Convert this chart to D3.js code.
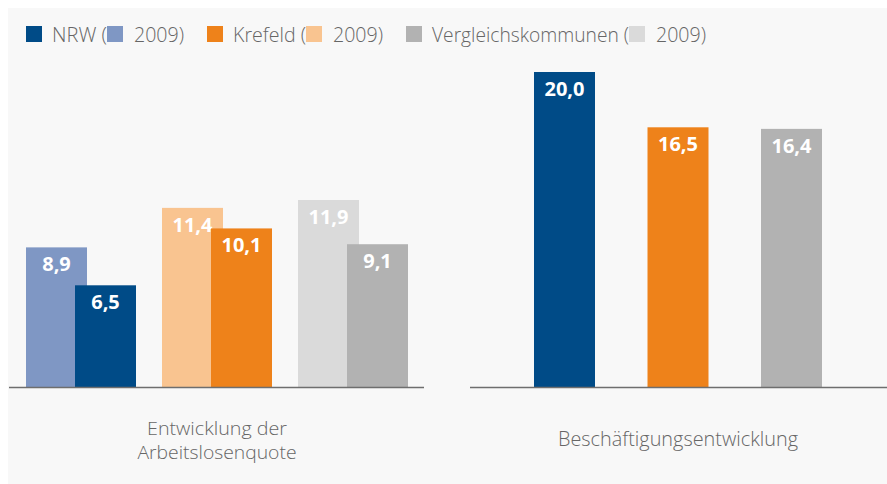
<!DOCTYPE html>
<html>
<head>
<meta charset="utf-8">
<script src="https://cdn.jsdelivr.net/npm/d3@7"></script>
<style>
  html, body { margin: 0; padding: 0; background: #ffffff; }
  svg { display: block; }
  text { font-family: "Open Sans", "Noto Sans", sans-serif; }
</style>
</head>
<body>
<svg id="chart" width="887" height="484"></svg>
<script>
// ---- Data ----
const categories = ["NRW", "Krefeld", "Vergleichskommunen"];
const years = ["2009", "aktuell"];
const arbeitslos2009 = [8.9, 11.4, 11.9];
const arbeitslosAktuell = [6.5, 10.1, 9.1];
const beschaeftigung = [20.0, 16.5, 16.4];
const panelLabels = [["Entwicklung der", "Arbeitslosenquote"], ["Beschäftigungsentwicklung"]];
const legendLabels = ["NRW (", "Krefeld (", "Vergleichskommunen ("];
const legendYearLabel = "2009)";

// ---- Styles ----
const colorsDark = ["#004b87", "#ee821a", "#b2b2b2"];
const colorsLight = ["#7f97c4", "#f9c490", "#dadada"];
const textGray = "#666666";
const legendWidths = [55, 73, 197];
const legendYearWidth = 50;
const panelLabelWidths = [[140, 159], [240]];

const svg = d3.select("#chart");
const W = 887, H = 484;

svg.append("rect").attr("x", 8).attr("y", 8).attr("width", W - 8).attr("height", H - 8).attr("fill", "#f8f8f8");

const locale = d3.formatLocale({ decimal: ",", thousands: ".", grouping: [3], currency: ["", "€"] });
const fmt = locale.format(".1f");

const y = d3.scaleLinear().domain([0, 20]).range([388, 72]);
const barW = 61;

// Left panel: grouped overlapping bars
const xGroup = d3.scaleBand().domain(categories).range([26, 408]).paddingInner(26 / 136).paddingOuter(0);
const xYear = d3.scalePoint().domain(years).range([0, 49]);

const leftData = [];
categories.forEach((c, i) => {
  leftData.push({ cat: c, year: "2009", value: arbeitslos2009[i], color: colorsLight[i] });
  leftData.push({ cat: c, year: "aktuell", value: arbeitslosAktuell[i], color: colorsDark[i] });
});

const left = svg.append("g");
const lb = left.selectAll("g.bar").data(leftData).join("g").attr("class", "bar");
lb.append("rect")
  .attr("x", d => xGroup(d.cat) + xYear(d.year))
  .attr("y", d => y(d.value))
  .attr("width", barW)
  .attr("height", d => y(0) - y(d.value))
  .attr("fill", d => d.color);
lb.append("text")
  .attr("x", d => xGroup(d.cat) + xYear(d.year) + barW / 2)
  .attr("y", d => y(d.value) + 24)
  .attr("text-anchor", "middle")
  .attr("fill", "#ffffff")
  .attr("font-size", 20)
  .attr("font-weight", 700)
  .text(d => fmt(d.value));

// Right panel
const xRight = d3.scaleBand().domain(categories).range([534, 822]).paddingInner((113.5 - 61) / 113.5).paddingOuter(0);
const rightData = categories.map((c, i) => ({ cat: c, value: beschaeftigung[i], color: colorsDark[i] }));
const right = svg.append("g");
const rb = right.selectAll("g.bar").data(rightData).join("g").attr("class", "bar");
rb.append("rect")
  .attr("x", d => xRight(d.cat))
  .attr("y", d => y(d.value))
  .attr("width", xRight.bandwidth())
  .attr("height", d => y(0) - y(d.value))
  .attr("fill", d => d.color);
rb.append("text")
  .attr("x", d => xRight(d.cat) + xRight.bandwidth() / 2)
  .attr("y", d => y(d.value) + 24)
  .attr("text-anchor", "middle")
  .attr("fill", "#ffffff")
  .attr("font-size", 20)
  .attr("font-weight", 700)
  .text(d => fmt(d.value));

// Baselines
svg.append("line").attr("x1", 9).attr("x2", 424).attr("y1", y(0) - 0.5).attr("y2", y(0) - 0.5)
  .attr("stroke", "#6e6e6e").attr("stroke-width", 1.5);
svg.append("line").attr("x1", 470).attr("x2", 887).attr("y1", y(0) - 0.5).attr("y2", y(0) - 0.5)
  .attr("stroke", "#6e6e6e").attr("stroke-width", 1.5);

// Panel labels
const leftCenter = (xGroup.range()[0] + xGroup.range()[1]) / 2;
const rightCenter = (xRight.range()[0] + xRight.range()[1]) / 2;
const pl1 = svg.append("text").attr("text-anchor", "middle").attr("fill", textGray)
  .attr("font-size", 19).attr("font-weight", 300);
panelLabels[0].forEach((t, i) => {
  pl1.append("tspan").attr("x", leftCenter).attr("y", 435 + i * 24)
    .attr("textLength", panelLabelWidths[0][i]).attr("lengthAdjust", "spacingAndGlyphs")
    .text(t);
});
svg.append("text").attr("text-anchor", "middle").attr("fill", textGray)
  .attr("font-size", 20.5).attr("font-weight", 300)
  .attr("x", rightCenter).attr("y", 446)
  .attr("textLength", panelLabelWidths[1][0]).attr("lengthAdjust", "spacingAndGlyphs")
  .text(panelLabels[1][0]);

// Legend
const legend = svg.append("g");
let lx = 26;
const sq = 16, sqY = 26, txtY = 41.5;
legendLabels.forEach((lab, i) => {
  legend.append("rect").attr("x", lx).attr("y", sqY).attr("width", sq).attr("height", sq).attr("fill", colorsDark[i]);
  lx += sq + 10;
  legend.append("text").attr("x", lx).attr("y", txtY).attr("fill", textGray)
    .attr("font-size", 20).attr("font-weight", 300)
    .attr("textLength", legendWidths[i]).attr("lengthAdjust", "spacingAndGlyphs")
    .text(lab);
  lx += legendWidths[i];
  legend.append("rect").attr("x", lx).attr("y", sqY).attr("width", sq).attr("height", sq).attr("fill", colorsLight[i]);
  lx += sq + 11;
  legend.append("text").attr("x", lx).attr("y", txtY).attr("fill", textGray)
    .attr("font-size", 20).attr("font-weight", 300)
    .attr("textLength", legendYearWidth).attr("lengthAdjust", "spacingAndGlyphs")
    .text(legendYearLabel);
  lx += legendYearWidth + 23;
});
</script>
</body>
</html>
